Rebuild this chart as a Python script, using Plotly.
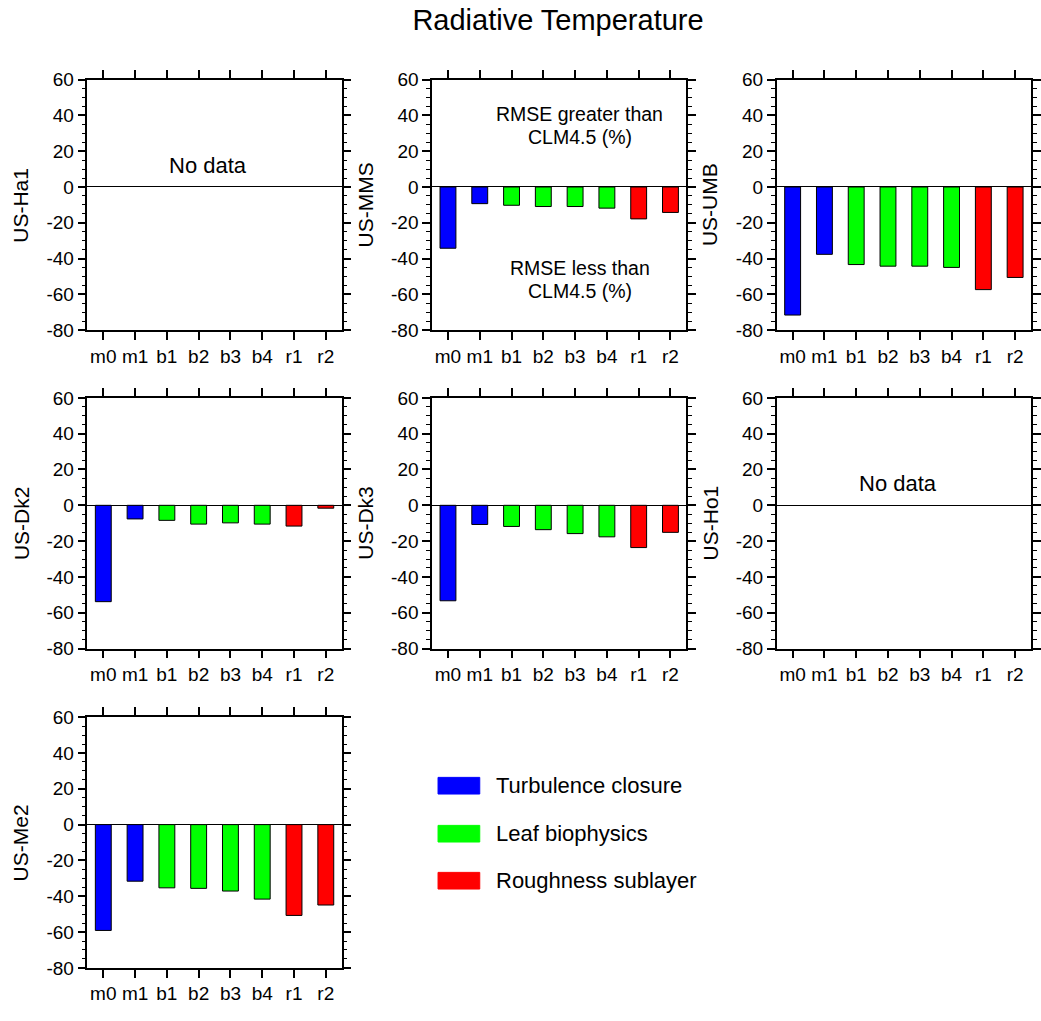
import plotly.graph_objects as go

# Experiment labels and their parameterisation group
experiments = ["m0", "m1", "b1", "b2", "b3", "b4", "r1", "r2"]
groups = ["turb", "turb", "leaf", "leaf", "leaf", "leaf", "rsl", "rsl"]

group_names = {"turb": "Turbulence closure", "leaf": "Leaf biophysics", "rsl": "Roughness sublayer"}
group_colors = {"turb": "#0000ff", "leaf": "#00ff00", "rsl": "#ff0000"}

# Change in RMSE relative to CLM4.5 (%), per site (None = no observations)
us_ha1 = None
us_mms = [-34.2, -9.3, -10.2, -10.9, -10.9, -11.8, -17.8, -14.2]
us_umb = [-71.5, -37.6, -43.3, -44.2, -44.2, -44.9, -57.3, -50.5]
us_dk2 = [-53.8, -7.6, -8.4, -10.5, -9.8, -10.5, -11.6, -1.6]
us_dk3 = [-53.3, -10.7, -11.8, -13.6, -15.8, -17.6, -23.6, -15.1]
us_ho1 = None
us_me2 = [-59.1, -31.6, -35.3, -35.6, -37.1, -41.6, -50.7, -44.9]

sites = ["US-Ha1", "US-MMS", "US-UMB", "US-Dk2", "US-Dk3", "US-Ho1", "US-Me2"]
site_values = [us_ha1, us_mms, us_umb, us_dk2, us_dk3, us_ho1, us_me2]

# y axis scale and labels (plain hyphen for negatives)
y_range = [-80, 60]
y_tickvals = [-80, -60, -40, -20, 0, 20, 40, 60]
y_ticktext = ["-80", "-60", "-40", "-20", "0", "20", "40", "60"]

W, H = 1041, 1021
FONT = "Liberation Sans, Arial, Helvetica, sans-serif"

# panel geometry in pixels
col_left = [88, 435, 782]
row_top = [71, 396, 722]
PW, PH = 256, 256


def px_x(x):
    return x / W


def px_y(y):
    return 1 - y / H


fig = go.Figure()
annotations = []
shapes = []

bar_colors = [group_colors[g] for g in groups]

for i, (site, vals) in enumerate(zip(sites, site_values)):
    r, c = divmod(i, 3)
    n = i + 1
    xa = "x" if n == 1 else f"x{n}"
    ya = "y" if n == 1 else f"y{n}"
    xdom = [px_x(col_left[c]), px_x(col_left[c] + PW)]
    ydom = [px_y(row_top[r] + PH), px_y(row_top[r])]

    if vals is not None:
        fig.add_trace(go.Bar(
            x=experiments, y=vals, xaxis=xa, yaxis=ya,
            width=0.5,
            marker=dict(color=bar_colors, line=dict(color="black", width=1)),
            showlegend=False,
        ))
    else:
        # invisible trace so the axis pair is rendered
        fig.add_trace(go.Scatter(
            x=experiments, y=[0] * len(experiments), xaxis=xa, yaxis=ya,
            mode="markers", marker=dict(opacity=0), showlegend=False,
            hoverinfo="skip",
        ))
        annotations.append(dict(
            text="No data", x=3.3, y=12, xref=xa, yref=ya,
            showarrow=False, font=dict(size=22, family=FONT, color="black"),
        ))

    axis_common = dict(
        showline=True, linecolor="black", linewidth=1.5, mirror="allticks",
        ticks="outside", tickcolor="black", tickwidth=1.5, ticklen=8,
        showgrid=False, tickfont=dict(size=19, family=FONT, color="black"),
    )
    fig.layout[("xaxis" if n == 1 else f"xaxis{n}")] = dict(
        axis_common, domain=xdom, anchor=ya, type="category",
        categoryorder="array", categoryarray=experiments,
        range=[-0.5, 7.5], zeroline=False,
    )
    fig.layout[("yaxis" if n == 1 else f"yaxis{n}")] = dict(
        axis_common, domain=ydom, anchor=xa, range=y_range,
        tickmode="array", tickvals=y_tickvals, ticktext=y_ticktext,
        minor=dict(ticks="outside", dtick=5, tick0=0, ticklen=4, tickwidth=1,
                   tickcolor="black"),
        zeroline=True, zerolinecolor="black", zerolinewidth=1,
    )

    # site name on the left of each panel
    annotations.append(dict(
        text=site, textangle=-90, xref="paper", yref="paper",
        x=px_x(col_left[c] - 67), y=px_y(row_top[r] + PH / 2),
        xanchor="center", yanchor="middle", showarrow=False,
        font=dict(size=21, family=FONT, color="black"),
    ))

# explanatory text in the US-MMS panel
for txt, yv in [("RMSE greater than", 40.6), ("CLM4.5 (%)", 27.9),
                ("RMSE less than", -45.0), ("CLM4.5 (%)", -57.8)]:
    annotations.append(dict(
        text=txt, x=4.15, y=yv, xref="x2", yref="y2", showarrow=False,
        font=dict(size=19.5, family=FONT, color="black"),
    ))

# group legend
legend_rows = [("turb", 792), ("leaf", 841), ("rsl", 889)]
for g, yc in legend_rows:
    shapes.append(dict(
        type="rect", xref="paper", yref="paper",
        x0=px_x(441), x1=px_x(483), y0=px_y(yc + 8.5), y1=px_y(yc - 8.5),
        fillcolor=group_colors[g], line=dict(color=group_colors[g], width=1),
    ))
    annotations.append(dict(
        text=group_names[g], xref="paper", yref="paper",
        x=px_x(497), y=px_y(yc), xanchor="left", yanchor="middle",
        showarrow=False, font=dict(size=22, family=FONT, color="black"),
    ))

fig.update_layout(
    width=W, height=H, margin=dict(l=0, r=0, t=0, b=0),
    paper_bgcolor="white", plot_bgcolor="white",
    title=dict(text="Radiative Temperature", x=px_x(558), y=px_y(20),
               xanchor="center", yanchor="middle",
               font=dict(size=29, family=FONT, color="black")),
    annotations=annotations, shapes=shapes,
    bargap=0.5,
)

fig.write_html("out.html")
